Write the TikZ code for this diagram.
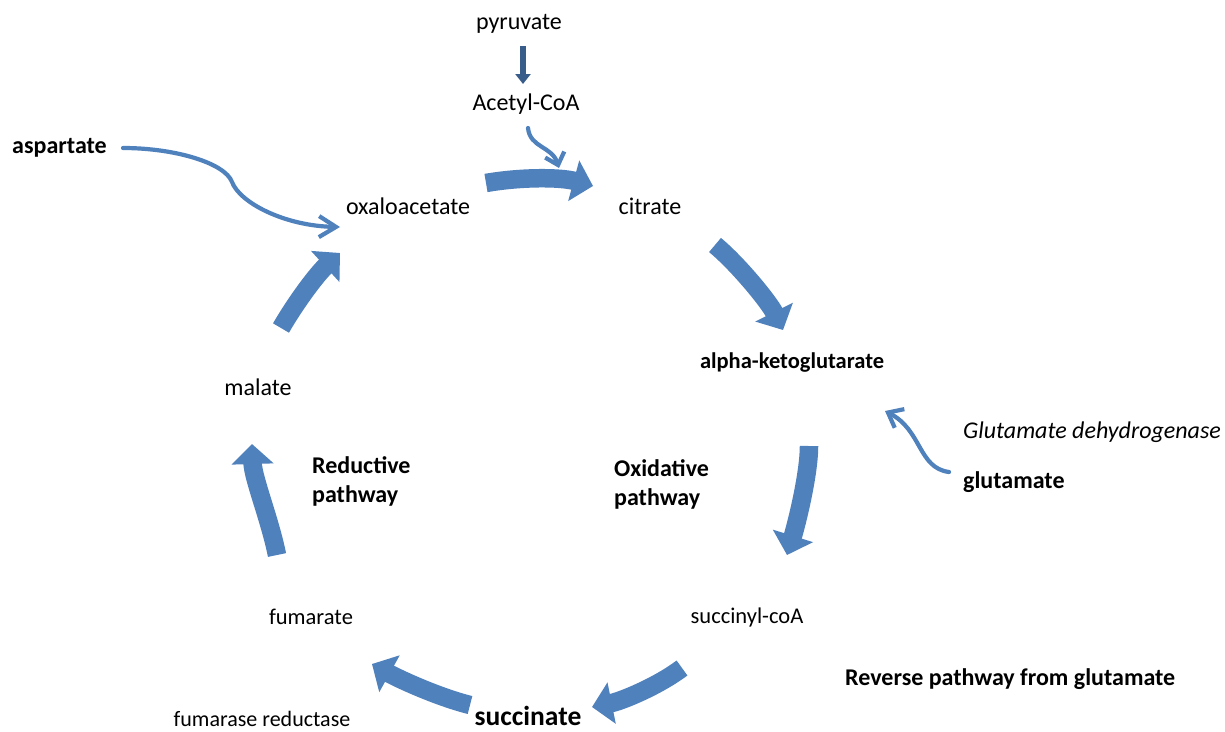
\documentclass[tikz,border=0pt]{standalone}
\usepackage{fontspec}
\setmainfont{Carlito}
\usetikzlibrary{arrows.meta}
\definecolor{cycleblue}{RGB}{79,129,189}
\definecolor{darkblue}{RGB}{56,93,138}
\begin{document}
\begin{tikzpicture}[x=1pt,y=-1pt,
  lbl/.style={inner sep=0pt, text=black, font=\fontsize{24}{29}\selectfont},
  blbl/.style={inner sep=0pt, text=black, font=\fontsize{24}{29}\selectfont\bfseries},
  bigarrow/.style={draw=cycleblue, line width=18.5pt, -{Triangle[width=41pt,length=20pt]}},
  thinarrow/.style={draw=cycleblue, line width=4.2pt, line cap=round, line join=round}]
\useasboundingbox (0,0) rectangle (1225,731);
\fill[white] (0,0) rectangle (1225,731);

% labels
\node[lbl] (pyr) at (519,24) {pyruvate};
\node[lbl] (acoa) at (526,104) {Acetyl-CoA};
\node[blbl, anchor=west] (asp) at (12,148) {aspartate};
\node[lbl] (oaa) at (408,206) {oxaloacetate};
\node[lbl] (cit) at (650,206) {citrate};
\node[blbl, font=\fontsize{22.5}{27}\selectfont\bfseries] (akg) at (792,363) {alpha-ketoglutarate};
\node[lbl, anchor=west, font=\fontsize{24}{29}\selectfont\itshape] (gdh) at (963,432) {Glutamate dehydrogenase};
\node[blbl, anchor=west] (glu) at (963,482) {glutamate};
\node[blbl, anchor=west, align=left] (oxp) at (614,484) {Oxidative\\pathway};
\node[blbl, anchor=west, align=left] (redp) at (312,481) {Reductive\\pathway};
\node[lbl] (mal) at (258,387) {malate};
\node[lbl, font=\fontsize{22.5}{27}\selectfont] (fum) at (311,617) {fumarate};
\node[lbl, font=\fontsize{22.5}{27}\selectfont] (sco) at (747,617) {succinyl-coA};
\node[blbl, anchor=west] (rev) at (845,679) {Reverse pathway from glutamate};
\node[blbl, font=\fontsize{27.5}{32}\selectfont\bfseries] (suc) at (528,716) {succinate};
\node[lbl, font=\fontsize{22}{26}\selectfont] (fumred) at (262,719) {fumarase reductase};

% big cycle arrows
\coordinate (a1s) at (486,183); \coordinate (a1e) at (593,186);
\coordinate (a2s) at (715,245); \coordinate (a2e) at (783,330);
\coordinate (a3s) at (809,446); \coordinate (a3e) at (787,555);
\coordinate (a4s) at (682,668); \coordinate (a4e) at (592,707);
\coordinate (a5s) at (470,705); \coordinate (a5e) at (372,664);
\coordinate (a6s) at (277,555); \coordinate (a6e) at (252,444);
\coordinate (a7s) at (281,328); \coordinate (a7e) at (340,253);
\draw[bigarrow] (a1s) .. controls (520,177) and (560,177) .. (a1e);
\draw[bigarrow] (a2s) .. controls (738,264) and (769,302) .. (a2e);
\draw[bigarrow] (a3s) .. controls (809,475) and (796,526) .. (a3e);
\draw[bigarrow] (a4s) .. controls (658,686) and (622,701) .. (a4e);
\draw[bigarrow] (a5s) .. controls (438,697) and (399,679) .. (a5e);
\draw[bigarrow] (a6s) .. controls (270,520) and (253,478) .. (a6e);
\draw[bigarrow] (a7s) .. controls (296,302) and (317,274) .. (a7e);

% pyruvate -> Acetyl-CoA
\coordinate (p1) at (523,46); \coordinate (p2) at (523,84);
\draw[darkblue, line width=5.5pt, -{Triangle[width=15pt,length=10pt]}] (p1) -- (p2);

% Acetyl-CoA -> citrate step
\coordinate (c1) at (528,128); \coordinate (c2) at (559,168);
\draw[thinarrow, -{Straight Barb[length=11pt,width=20pt]}] (c1) .. controls (530,148) and (552,146) .. (c2);

% aspartate -> oxaloacetate
\coordinate (s1) at (123,148); \coordinate (s2) at (340,227);
\draw[thinarrow, -{Straight Barb[length=17pt,width=21pt]}] (s1) .. controls (175,148) and (225,163) .. (232,182) .. controls (240,203) and (285,226) .. (s2);

% glutamate -> alpha-ketoglutarate
\coordinate (g1) at (949,472); \coordinate (g2) at (885,411);
\draw[thinarrow, -{Straight Barb[length=13pt,width=21pt]}] (g1) .. controls (918,468) and (922,430) .. (g2);
\end{tikzpicture}
\end{document}
